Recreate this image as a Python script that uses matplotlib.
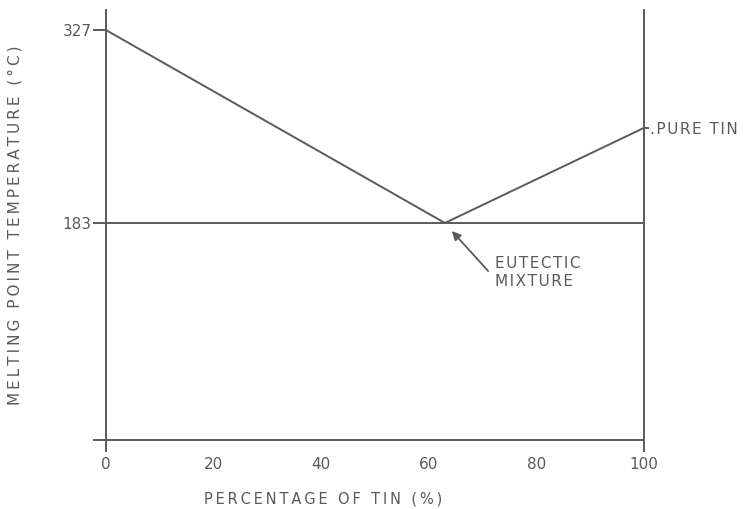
import matplotlib.pyplot as plt

# data
tin_pct = [0, 63, 100]
melt_temp = [327, 183, 254]
eutectic_x = [0, 100]
eutectic_y = [183, 183]
x_ticks = [0, 20, 40, 60, 80, 100]
y_ticks = [21, 183, 327]
y_labels = ['', '183', '327']

ink = '#5a5a5a'
plt.rcParams['font.family'] = ['DejaVu Sans']


def spaced(s, sp='\u2009'):
    # stencil-style lettering is widely spaced
    return '\n'.join(sp.join(line) for line in s.split('\n'))


fig = plt.figure(figsize=(7.5, 5.09), dpi=100)
ax = fig.add_axes([0.1413, 0.1356, 0.7174, 0.8448])

ax.plot(tin_pct, melt_temp, c=ink, lw=1.4)
ax.plot(eutectic_x, eutectic_y, c=ink, lw=1.4)

ax.set_xlim(0, 100)
ax.set_ylim(21, 342)

for s in ['left', 'bottom', 'right']:
    ax.spines[s].set_color(ink)
    ax.spines[s].set_linewidth(1.4)
ax.spines['top'].set_visible(False)

ax.set_xticks(x_ticks)
ax.set_yticks(y_ticks)
ax.set_yticklabels(y_labels)
ax.tick_params(axis='x', length=8.6, width=1.4, color=ink, labelcolor=ink,
               labelsize=11, pad=4)
ax.tick_params(axis='y', length=9.4, width=1.4, color=ink, labelcolor=ink,
               labelsize=11, pad=1)
for t in ax.xaxis.get_major_ticks()[1:-1]:
    t.tick1line.set_visible(False)

ax.set_xlabel(spaced('PERCENTAGE OF TIN (%)'), color=ink, fontsize=10.5,
              va='center')
ax.set_ylabel(spaced('MELTING POINT TEMPERATURE (°C)'), color=ink,
              fontsize=11)
ax.xaxis.set_label_coords(0.403, -0.137)
ax.yaxis.set_label_coords(-0.156, 0.5)

# pure tin tick on the right
ax2 = ax.twinx()
ax2.set_ylim(ax.get_ylim())
ax2.set_yticks([melt_temp[-1]])
ax2.set_yticklabels([spaced('.PURE TIN', '\u200a')])
ax2.tick_params(axis='y', length=3.6, width=1.4, color=ink, labelcolor=ink,
                labelsize=11, pad=1)
for s in ['left', 'bottom', 'top', 'right']:
    ax2.spines[s].set_visible(False)

ax.annotate(spaced('EUTECTIC\nMIXTURE', '\u200a'), xy=(64.3, 177),
            xytext=(72.3, 158), ha='left', va='top', fontsize=11,
            color=ink, linespacing=1.2,
            arrowprops=dict(arrowstyle='-|>', color=ink, lw=1.3,
                            shrinkA=0, shrinkB=0, mutation_scale=13,
                            relpos=(-0.08, 0.55)))

fig.savefig('out.png', dpi=100)
